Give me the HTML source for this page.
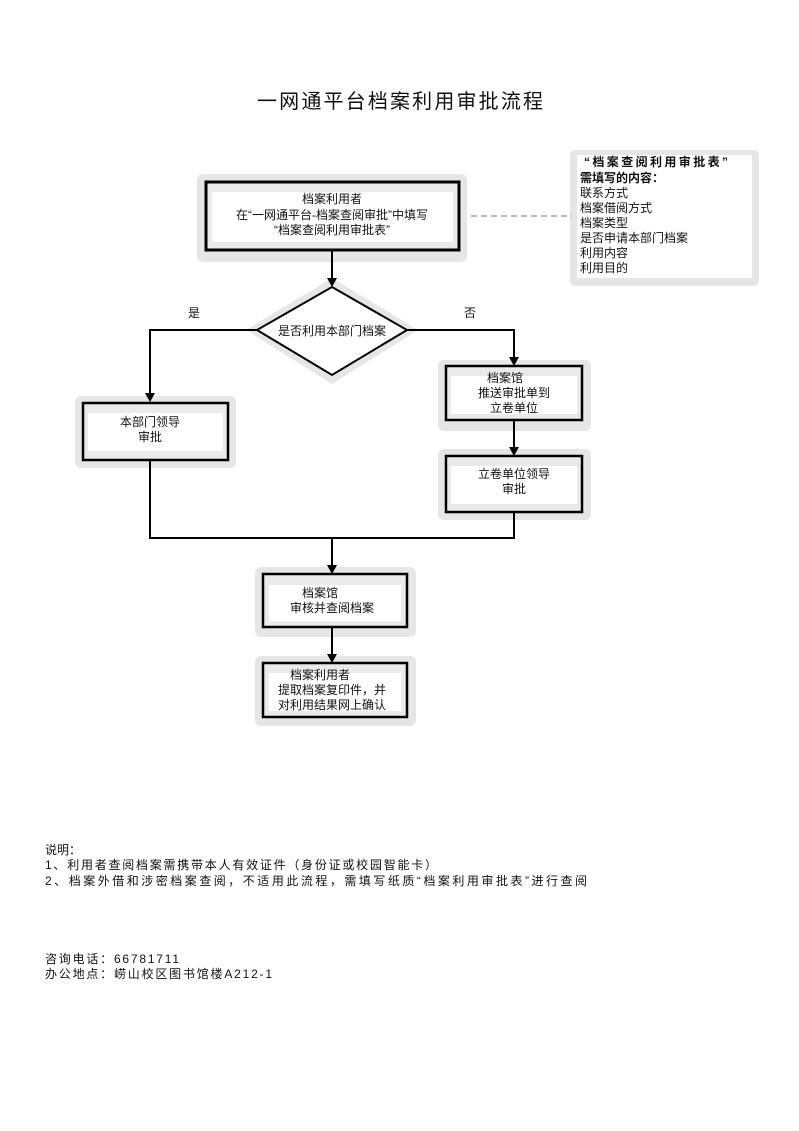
<!DOCTYPE html>
<html><head><meta charset="utf-8"><style>
html,body{margin:0;padding:0;background:#fff;}
svg{display:block;}
text{font-family:"Liberation Sans","Noto Sans CJK SC","WenQuanYi Zen Hei",sans-serif;fill:#111;}
</style></head><body>
<svg width="799" height="1131" viewBox="0 0 799 1131" xmlns="http://www.w3.org/2000/svg">
<text x="257" y="108" font-size="20" textLength="286" lengthAdjust="spacing">一网通平台档案利用审批流程</text>

<!-- note box -->
<rect x="570" y="150" width="189" height="136" rx="5" fill="#e6e6e6"/>
<rect x="577" y="155" width="175" height="123" fill="#fff"/>
<g font-size="12">
<text x="584" y="166" font-weight="bold" textLength="144">“档案查阅利用审批表”</text>
<text x="580" y="182" font-weight="bold">需填写的内容：</text>
<text x="580" y="197">联系方式</text>
<text x="580" y="212">档案借阅方式</text>
<text x="580" y="227">档案类型</text>
<text x="580" y="242">是否申请本部门档案</text>
<text x="580" y="257">利用内容</text>
<text x="580" y="272">利用目的</text>
</g>
<line x1="461" y1="216" x2="572" y2="216" stroke="#777" stroke-dasharray="6,4"/>

<rect x="197" y="174" width="270" height="88" rx="6" fill="#e6e6e6"/>
<rect x="206" y="182" width="253" height="68" fill="#eaeaea" stroke="#000" stroke-width="3"/>
<rect x="212" y="192" width="241" height="50" fill="#fff"/>
<text x="332" y="203" font-size="12" text-anchor="middle">档案利用者</text>
<text x="332" y="219" font-size="12" text-anchor="middle" fill="#333">在“一网通平台-档案查阅审批”中填写</text>
<text x="332" y="234" font-size="12" text-anchor="middle" fill="#333">“档案查阅利用审批表”</text>

<!-- diamond -->
<path d="M332,278 L418,330 L332,384 L246,330 z" fill="#e6e6e6"/>
<path d="M332,287 L407,330 L332,375 L257,330 z" fill="#fff" stroke="#000" stroke-width="2"/>
<text x="332" y="335" font-size="12" text-anchor="middle">是否利用本部门档案</text>
<text x="188" y="317" font-size="12">是</text>
<text x="464" y="317" font-size="12">否</text>

<!-- 本部门领导 -->
<rect x="75" y="396" width="161" height="72" rx="6" fill="#e6e6e6"/>
<rect x="83" y="403" width="145" height="57" fill="#eaeaea" stroke="#000" stroke-width="2.5"/>
<rect x="88" y="413" width="135" height="38" fill="#fff"/>
<text x="150" y="426" font-size="12" text-anchor="middle">本部门领导</text>
<text x="150" y="441" font-size="12" text-anchor="middle" fill="#333">审批</text>

<!-- 档案馆 推送 -->
<rect x="438" y="360" width="153" height="71" rx="6" fill="#e6e6e6"/>
<rect x="446" y="366" width="136" height="54" fill="#eaeaea" stroke="#000" stroke-width="2.5"/>
<rect x="451" y="376" width="126" height="38" fill="#fff"/>
<text x="505" y="382" font-size="12" text-anchor="middle">档案馆</text>
<text x="514" y="397" font-size="12" text-anchor="middle" fill="#333">推送审批单到</text>
<text x="514" y="412" font-size="12" text-anchor="middle" fill="#333">立卷单位</text>

<!-- 立卷单位领导 -->
<rect x="438" y="449" width="153" height="71" rx="6" fill="#e6e6e6"/>
<rect x="446" y="456" width="136" height="56" fill="#eaeaea" stroke="#000" stroke-width="2.5"/>
<rect x="451" y="466" width="126" height="38" fill="#fff"/>
<text x="514" y="478" font-size="12" text-anchor="middle">立卷单位领导</text>
<text x="514" y="493" font-size="12" text-anchor="middle" fill="#333">审批</text>

<!-- 档案馆 审核 -->
<rect x="255" y="567" width="161" height="70" rx="6" fill="#e6e6e6"/>
<rect x="263" y="574" width="144" height="53" fill="#eaeaea" stroke="#000" stroke-width="2.5"/>
<rect x="269" y="585" width="132" height="36" fill="#fff"/>
<text x="320" y="597" font-size="12" text-anchor="middle">档案馆</text>
<text x="332" y="612" font-size="12" text-anchor="middle" fill="#333">审核并查阅档案</text>

<!-- 档案利用者 -->
<rect x="255" y="656" width="161" height="70" rx="6" fill="#e6e6e6"/>
<rect x="263" y="663" width="144" height="54" fill="#eaeaea" stroke="#000" stroke-width="2.5"/>
<rect x="269" y="673" width="132" height="38" fill="#fff"/>
<text x="320" y="679" font-size="12" text-anchor="middle">档案利用者</text>
<text x="332" y="694" font-size="12" text-anchor="middle" fill="#333">提取档案复印件，并</text>
<text x="332" y="709" font-size="12" text-anchor="middle" fill="#333">对利用结果网上确认</text>

<!-- connectors (drawn last) -->
<g stroke="#000" stroke-width="2" fill="none">
<line x1="332" y1="251" x2="332" y2="280"/>
<polyline points="257,330 150,330 150,394"/>
<polyline points="407,330 514,330 514,359"/>
<line x1="514" y1="420" x2="514" y2="449"/>
<polyline points="150,460 150,538 514,538 514,512"/>
<line x1="332" y1="538" x2="332" y2="566"/>
<line x1="332" y1="627" x2="332" y2="655"/>
</g>
<g fill="#000">
<path d="M327,278 L337,278 L332,287 z"/>
<path d="M145,393 L155,393 L150,402 z"/>
<path d="M509,357 L519,357 L514,366 z"/>
<path d="M509,447 L519,447 L514,456 z"/>
<path d="M327,565 L337,565 L332,574 z"/>
<path d="M327,654 L337,654 L332,663 z"/>
</g>

<!-- notes -->
<g font-size="12">
<text x="45" y="854">说明：</text>
<text x="45" y="869" textLength="392" lengthAdjust="spacing">1、利用者查阅档案需携带本人有效证件（身份证或校园智能卡）</text>
<text x="45" y="885" textLength="542" lengthAdjust="spacing">2、档案外借和涉密档案查阅，不适用此流程，需填写纸质“档案利用审批表”进行查阅</text>
<text x="45" y="963" textLength="134" lengthAdjust="spacing">咨询电话：66781711</text>
<text x="45" y="978" textLength="227" lengthAdjust="spacing">办公地点：崂山校区图书馆楼A212-1</text>
</g>
</svg>
</body></html>
